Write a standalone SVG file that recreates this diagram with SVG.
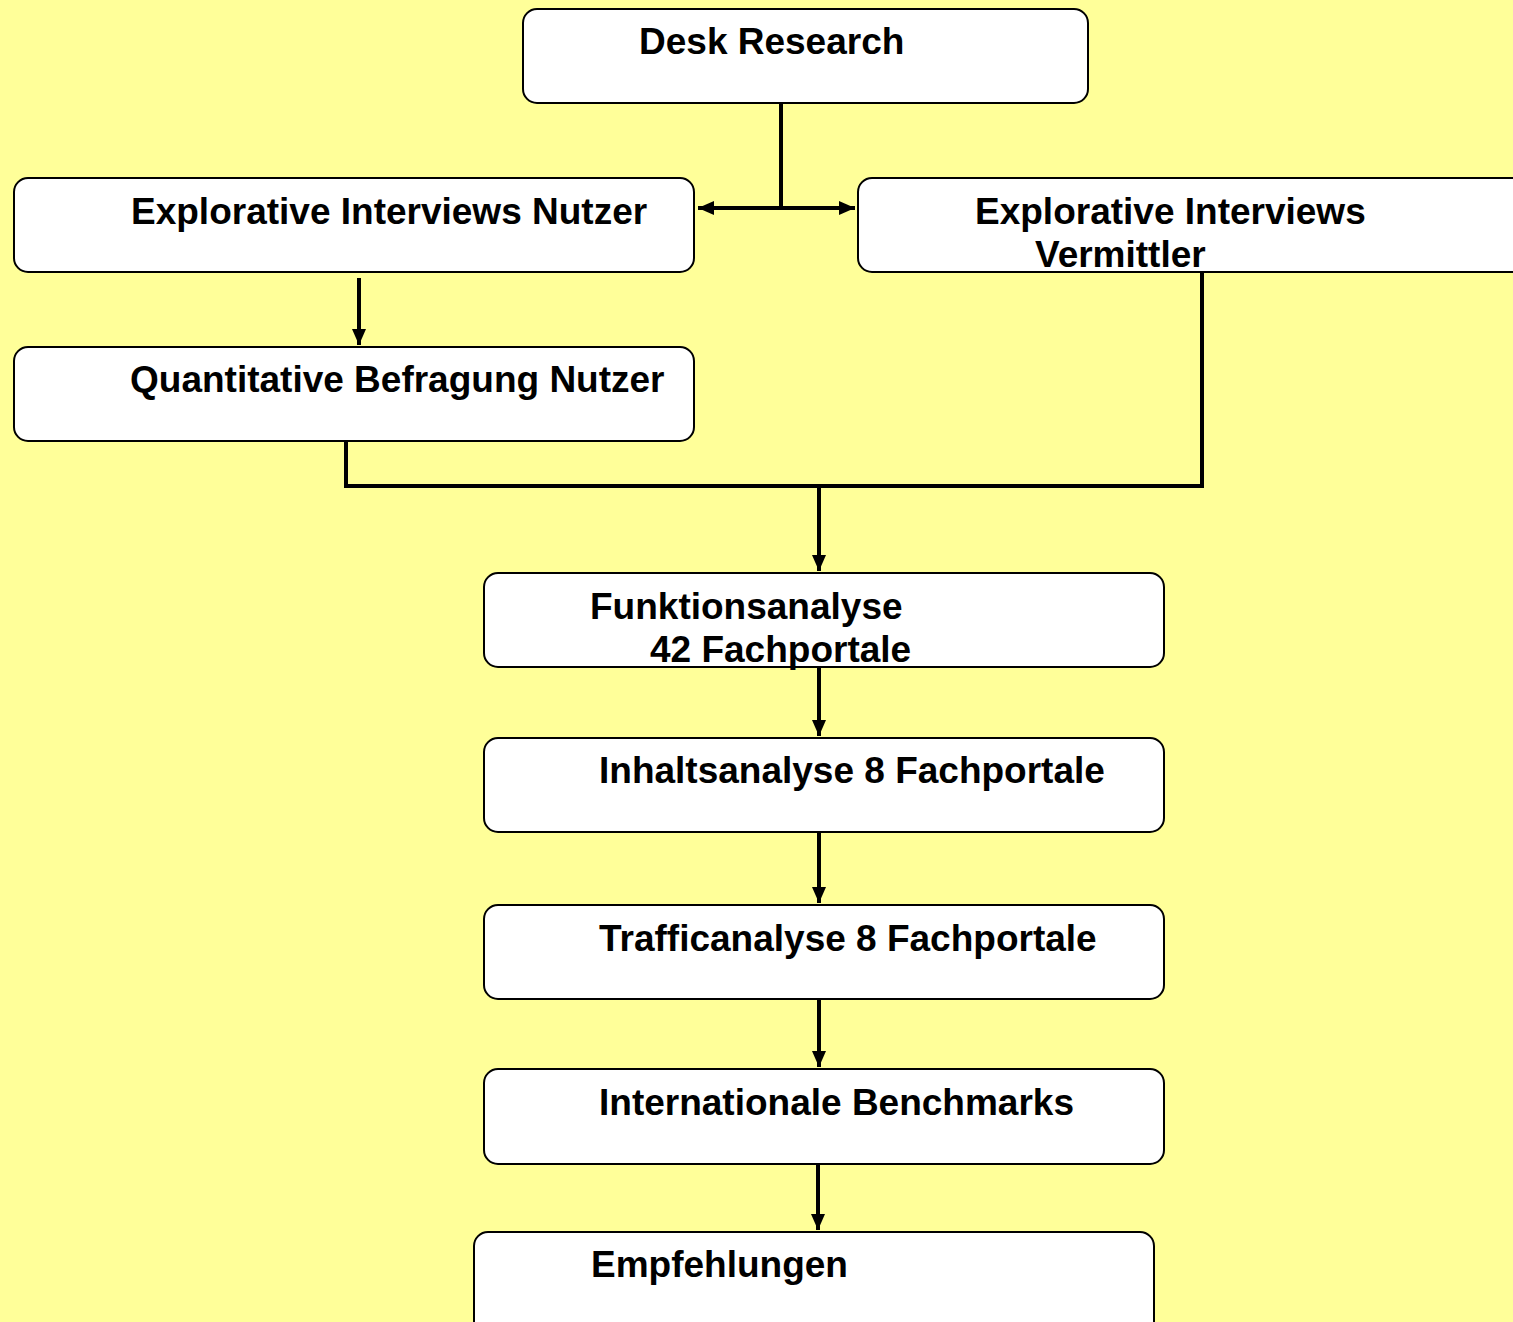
<svg xmlns="http://www.w3.org/2000/svg" width="1513" height="1322" viewBox="0 0 1513 1322">
<defs>
<marker id="ah" viewBox="0 0 10 10" refX="10" refY="5" markerWidth="4" markerHeight="3.5" markerUnits="strokeWidth" orient="auto" preserveAspectRatio="none">
<path d="M0,0 L10,5 L0,10 Z" fill="#000"/>
</marker>
</defs>
<style>
.box{fill:#fff;stroke:#000;stroke-width:2}
.t{font-family:"Liberation Sans",Arial,sans-serif;font-weight:bold;font-size:37px;fill:#000}
.c{fill:none;stroke:#000;stroke-width:4}
</style>
<rect width="1513" height="1322" fill="#FFFF99"/>
<g id="connectors">
<path class="c" d="M781,103 V208"/>
<path class="c" d="M781,208 H698" marker-end="url(#ah)"/>
<path class="c" d="M772,208 H855" marker-end="url(#ah)"/>
<path class="c" d="M359,278 V345" marker-end="url(#ah)"/>
<path class="c" d="M346,441 V486 H1202 V272"/>
<path class="c" d="M819,486 V571" marker-end="url(#ah)"/>
<path class="c" d="M819,667 V736" marker-end="url(#ah)"/>
<path class="c" d="M819,832 V903" marker-end="url(#ah)"/>
<path class="c" d="M819,999 V1067" marker-end="url(#ah)"/>
<path class="c" d="M818,1163 V1230" marker-end="url(#ah)"/>
</g>
<g id="desk"><rect class="box" x="523" y="9" width="565" height="94" rx="14"/><text class="t" x="639" y="54">Desk Research</text></g>
<g id="expl-nutzer"><rect class="box" x="14" y="178" width="680" height="94" rx="14"/><text class="t" x="131" y="224">Explorative Interviews Nutzer</text></g>
<g id="expl-vermittler"><rect class="box" x="858" y="178" width="680" height="94" rx="14"/><text class="t" x="975" y="224">Explorative Interviews</text><text class="t" x="1035" y="267">Vermittler</text></g>
<g id="quant"><rect class="box" x="14" y="347" width="680" height="94" rx="14"/><text class="t" x="130" y="392">Quantitative Befragung Nutzer</text></g>
<g id="funktion"><rect class="box" x="484" y="573" width="680" height="94" rx="14"/><text class="t" x="590" y="619">Funktionsanalyse</text><text class="t" x="650" y="662">42 Fachportale</text></g>
<g id="inhalt"><rect class="box" x="484" y="738" width="680" height="94" rx="14"/><text class="t" x="599" y="783">Inhaltsanalyse 8 Fachportale</text></g>
<g id="traffic"><rect class="box" x="484" y="905" width="680" height="94" rx="14"/><text class="t" x="599" y="951">Trafficanalyse 8 Fachportale</text></g>
<g id="bench"><rect class="box" x="484" y="1069" width="680" height="95" rx="14"/><text class="t" x="599" y="1115">Internationale Benchmarks</text></g>
<g id="empf"><rect class="box" x="474" y="1232" width="680" height="110" rx="14"/><text class="t" x="591" y="1277">Empfehlungen</text></g>
</svg>
